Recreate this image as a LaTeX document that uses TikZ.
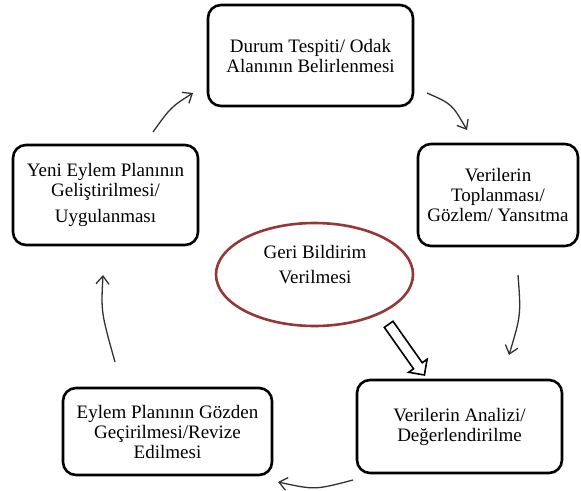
\documentclass[tikz,border=0pt]{standalone}
\usepackage{fontspec}
\setmainfont{Liberation Serif}
\usetikzlibrary{arrows.meta,shapes.geometric,shapes.arrows}
\definecolor{ellred}{RGB}{150,55,55}
\definecolor{arrgray}{RGB}{50,50,50}
\begin{document}
\begin{tikzpicture}[x=1pt,y=-1pt,
  box/.style={draw=black,line width=2.6pt,rounded corners=13pt,align=center,
    inner sep=0pt,font=\fontsize{19}{20}\selectfont},
  flow/.style={draw=arrgray,line width=1.3pt,-{Straight Barb[length=8pt,width=13pt,line width=1.3pt]}}]
\useasboundingbox (0,0) rectangle (581,490);
\node[box,minimum width=205pt,minimum height=101pt] (top) at (310.5,55.5)
  {Durum Tespiti/ Odak\\Alanının Belirlenmesi};
\node[box,minimum width=160pt,minimum height=102pt] (right) at (498,195)
  {Verilerin\\Toplanması/\\Gözlem/ Yansıtma};
\node[box,minimum width=205pt,minimum height=93pt] (br) at (459.5,426.5)
  {Verilerin Analizi/\\Değerlendirilme};
\node[box,minimum width=209pt,minimum height=87pt] (bl) at (167.5,431.5)
  {Eylem Planının Gözden\\Geçirilmesi/Revize\\Edilmesi};
\node[box,minimum width=185pt,minimum height=100pt] (left) at (105.5,195)
  {Yeni Eylem Planının\\Geliştirilmesi/\\[6pt]Uygulanması};
\node[draw=ellred,line width=2.6pt,ellipse,minimum width=197pt,minimum height=103pt,inner sep=0pt] (fb) at (314.5,274.5) {};
\node[align=center,font=\fontsize{19}{25}\selectfont] (fbtext) at (315,265) {Geri Bildirim\\Verilmesi};
% curved arrows
\coordinate (a1s) at (427,93); \coordinate (a1e) at (467,130);
\coordinate (a2s) at (518,275); \coordinate (a2e) at (509,355);
\coordinate (a3s) at (353,480); \coordinate (a3e) at (278,482);
\coordinate (a4s) at (115,362); \coordinate (a4e) at (103,275);
\coordinate (a5s) at (153,132); \coordinate (a5e) at (193,93);
\draw[flow] (a1s) .. controls (452,104) .. (a1e);
\draw[flow] (a2s) .. controls (521,315) .. (a2e);
\draw[flow] (a3s) .. controls (315,490) .. (a3e);
\draw[flow] (a4s) .. controls (101,312) .. (a4e);
\draw[flow] (a5s) .. controls (171,107) .. (a5e);
% hollow arrow
\node[single arrow,draw=black,fill=white,line width=1.6pt,inner sep=4.5pt,
  minimum height=62pt,single arrow head extend=6pt,rotate=-54.8] (hollow) at (405,347.5) {};
\end{tikzpicture}
\end{document}
